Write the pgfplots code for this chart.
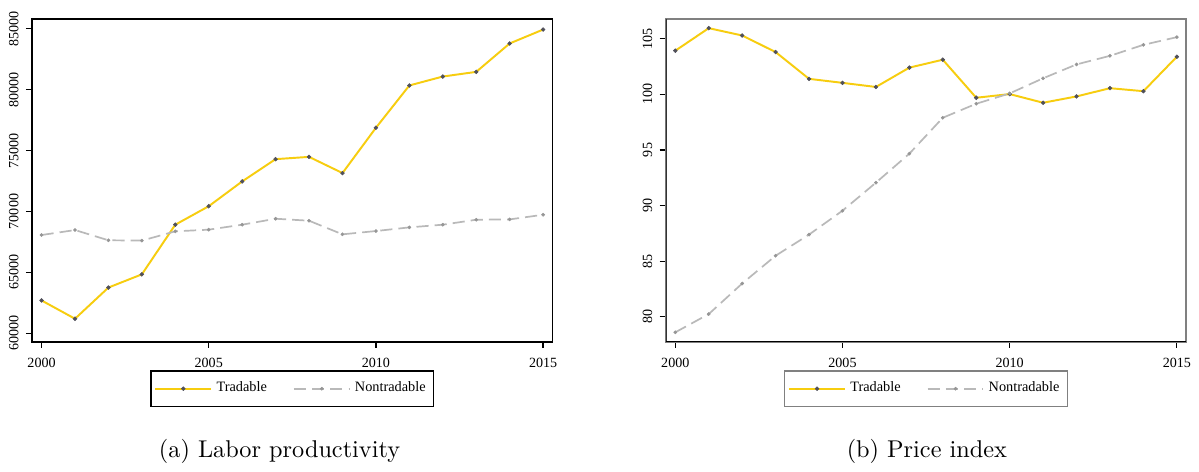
\documentclass[border=0pt]{standalone}
\usepackage{fontspec}
\newfontfamily\tnr{Liberation Serif}
\usepackage{pgfplots}
\pgfplotsset{compat=1.18}

\definecolor{tradcol}{RGB}{247,205,15}
\definecolor{nontcol}{RGB}{185,185,185}
\definecolor{markdark}{RGB}{80,80,90}
\definecolor{marklight}{RGB}{150,150,150}

\pgfplotsset{
  panel/.style={
    scale only axis,
    width=214.5pt, height=133.1pt,
    xmin=1999.715, xmax=2015.28,
    xtick={2000,2005,2010,2015},
    /pgf/number format/assume math mode=true,
    /pgf/number format/1000 sep={},
    scaled y ticks=false,
    tick label style={font=\tnr\fontsize{5.8}{6.5}\selectfont},
    yticklabel style={rotate=90, anchor=south, yshift=-0.5pt},
    xticklabel style={yshift=-0.5pt},
    tick align=outside,
    tick pos=left,
    major tick length=2.5pt,
    tick style={black, line width=0.5pt},
    legend columns=2,
    legend style={
      at={(axis description cs:0.5,-0.145)}, anchor=center,
      font=\tnr\fontsize{5.9}{7}\selectfont,
      inner xsep=1.5pt, inner ysep=2.5pt,
      /tikz/every even column/.append style={column sep=9pt},
      nodes={inner xsep=1.8pt},
    },
    legend image code/.code={
      \draw[#1] (0pt,0pt) -- (23pt,0pt);
      \draw[#1, solid] plot coordinates {(11.5pt,0pt)};
    },
  },
  trad/.style={color=tradcol, line width=0.8pt, mark=*, mark size=0.8pt,
    mark options={draw=markdark, fill=markdark, line width=0.2pt}},
  nont/.style={color=nontcol, line width=0.7pt, dash pattern=on 5pt off 2.5pt,
    mark=*, mark size=0.65pt, mark options={draw=marklight, fill=marklight, solid, line width=0.2pt}},
}

\pgfplotstableread{
year trad nont
2000 62692 68067
2001 61190 68475
2002 63752 67635
2003 64837 67608
2004 68915 68369
2005 70432 68507
2006 72471 68915
2007 74299 69405
2008 74486 69241
2009 73157 68124
2010 76876 68394
2011 80351 68695
2012 81085 68915
2013 81468 69323
2014 83801 69350
2015 84943 69731
}\prodtable

\pgfplotstableread{
year trad nont
2000 103.93 78.60
2001 105.96 80.24
2002 105.30 82.99
2003 103.81 85.49
2004 101.40 87.39
2005 101.04 89.54
2006 100.67 92.06
2007 102.41 94.67
2008 103.12 97.90
2009 99.70 99.16
2010 100.03 100.09
2011 99.25 101.45
2012 99.82 102.70
2013 100.56 103.47
2014 100.29 104.46
2015 103.39 105.15
}\pricetable

\begin{document}
\begin{tikzpicture}
\fill[white] (0pt,0pt) rectangle (491pt,-191pt);

% (a) labor productivity
\begin{axis}[panel,
  at={(13.2pt,-7.8pt)}, anchor=north west,
  ymin=59290, ymax=85816,
  ytick={60000,65000,70000,75000,80000,85000},
  axis line style={black, line width=0.6pt},
  legend style={draw=black, line width=0.6pt},
]
\addplot[trad] table[x=year, y=trad] {\prodtable};
\addlegendentry{Tradable}
\addplot[nont] table[x=year, y=nont] {\prodtable};
\addlegendentry{Nontradable}
\end{axis}

% (b) price index
\begin{axis}[panel,
  at={(274.4pt,-7.8pt)}, anchor=north west,
  ymin=77.74, ymax=106.79,
  ytick={80,85,90,95,100,105},
  axis line style={gray, line width=0.6pt},
  legend style={draw=gray, line width=0.5pt},
]
\addplot[trad] table[x=year, y=trad] {\pricetable};
\addlegendentry{Tradable}
\addplot[nont] table[x=year, y=nont] {\pricetable};
\addlegendentry{Nontradable}
\draw[black!80, line width=0.6pt] (rel axis cs:0,1) -- (rel axis cs:0,0);
\draw[black, line width=1pt] (rel axis cs:0,0) -- (rel axis cs:1,0);
\end{axis}

\node[font=\fontsize{10}{12}\selectfont] at (115.2pt,-186pt) {(a) Labor productivity};
\node[font=\fontsize{10}{12}\selectfont] at (382pt,-186pt) {(b) Price index};
\end{tikzpicture}
\end{document}
